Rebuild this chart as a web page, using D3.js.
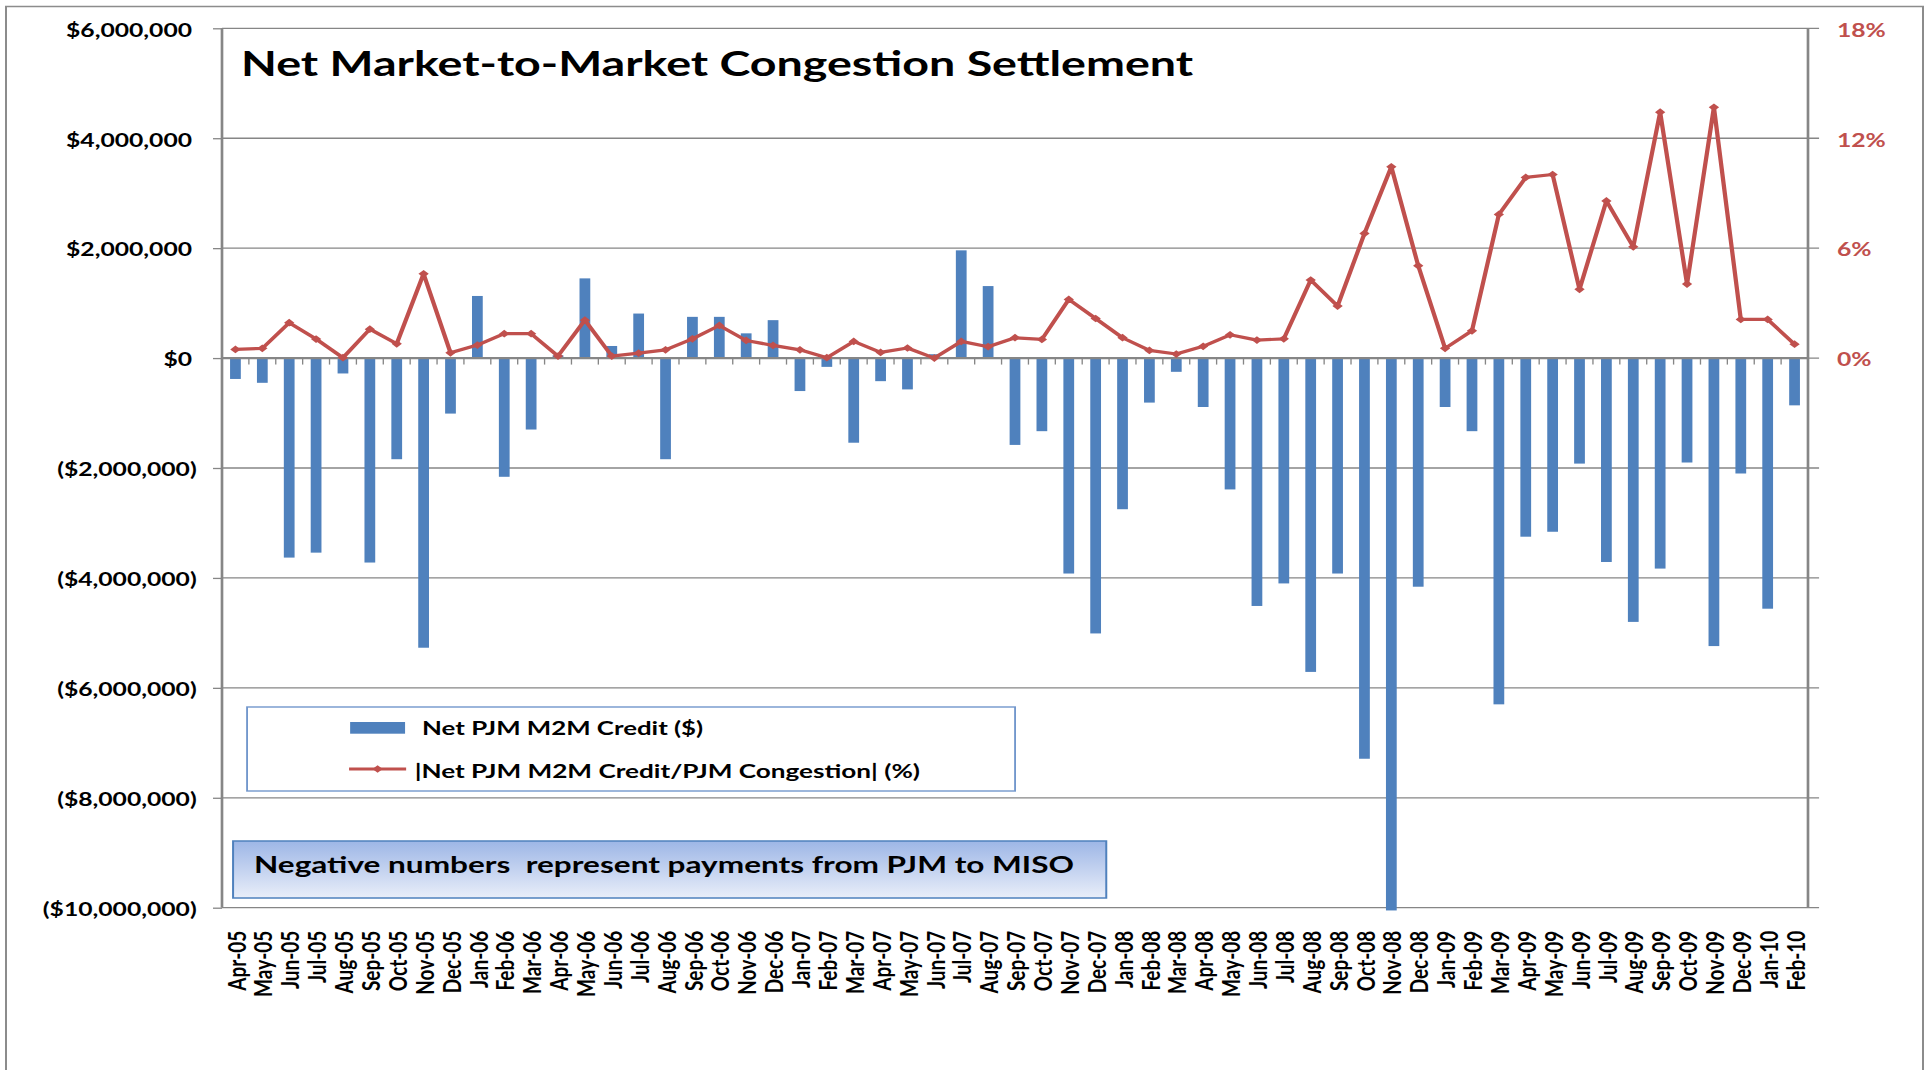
<!DOCTYPE html>
<html>
<head>
<meta charset="utf-8">
<script src="https://cdn.jsdelivr.net/npm/d3@7"></script>
<style>
  body { margin: 0; background: #fff; }
  svg { display: block; }
  text { font-family: Lato, "Open Sans", sans-serif; font-weight: bold; }
</style>
</head>
<body>
<svg id="chart" width="1929" height="1070"></svg>
<script>
const months = [
    "Apr-05", "May-05", "Jun-05", "Jul-05", "Aug-05", "Sep-05", "Oct-05", "Nov-05", "Dec-05",
    "Jan-06", "Feb-06", "Mar-06", "Apr-06", "May-06", "Jun-06", "Jul-06", "Aug-06", "Sep-06", "Oct-06", "Nov-06", "Dec-06",
    "Jan-07", "Feb-07", "Mar-07", "Apr-07", "May-07", "Jun-07", "Jul-07", "Aug-07", "Sep-07", "Oct-07", "Nov-07", "Dec-07",
    "Jan-08", "Feb-08", "Mar-08", "Apr-08", "May-08", "Jun-08", "Jul-08", "Aug-08", "Sep-08", "Oct-08", "Nov-08", "Dec-08",
    "Jan-09", "Feb-09", "Mar-09", "Apr-09", "May-09", "Jun-09", "Jul-09", "Aug-09", "Sep-09", "Oct-09", "Nov-09", "Dec-09",
    "Jan-10", "Feb-10"
];

// Net PJM M2M Credit ($)
const credit = [
    -380000, -450000, -3630000, -3540000, -280000, -3720000, -1840000, -5270000, -1010000,
    1130000, -2160000, -1300000, 50000, 1450000, 220000, 810000, -1840000, 750000, 750000, 450000, 690000,
    -600000, -160000, -1540000, -420000, -570000, 70000, 1960000, 1310000, -1580000, -1330000, -3920000, -5010000,
    -2750000, -810000, -250000, -890000, -2390000, -4510000, -4100000, -5710000, -3920000, -7290000, -10050000, -4160000,
    -890000, -1330000, -6300000, -3250000, -3160000, -1920000, -3710000, -4800000, -3830000, -1900000, -5240000, -2100000,
    -4560000, -860000
];

// |Net PJM M2M Credit/PJM Congestion| (%)
const congestionPct = [
    0.47, 0.53, 1.93, 1.04, 0.02, 1.58, 0.78, 4.60, 0.29,
    0.71, 1.33, 1.33, 0.11, 2.07, 0.11, 0.27, 0.45, 1.05, 1.78, 0.96, 0.69,
    0.45, 0.02, 0.91, 0.31, 0.55, 0.00, 0.91, 0.62, 1.11, 1.02, 3.20, 2.16,
    1.11, 0.42, 0.22, 0.64, 1.27, 0.98, 1.05, 4.26, 2.84, 6.80, 10.44, 5.04,
    0.53, 1.49, 7.84, 9.86, 10.02, 3.75, 8.58, 6.07, 13.42, 4.04, 13.69, 2.11,
    2.11, 0.76
];

const leftTicks = [6000000, 4000000, 2000000, 0, -2000000, -4000000, -6000000, -8000000, -10000000];
const rightTicks = [0, 6, 12, 18];

const seriesNames = ["Net PJM M2M Credit ($)", "|Net PJM M2M Credit/PJM Congestion| (%)"];
const titleText = "Net Market-to-Market Congestion Settlement";
const noteText = "Negative numbers  represent payments from PJM to MISO";

const blue = "#4F81BD";
const red = "#C0504D";
const gray = "#868686";

// the original picture is stretched sideways, so draw in a narrower box and let the viewBox stretch it
const W = 1929, H = 1070, stretch = 4 / 3;
const vbW = W / stretch;

const svg = d3.select("#chart")
    .attr("viewBox", "0 0 " + vbW + " " + H)
    .attr("preserveAspectRatio", "none");

const plot = { left: 166.5, right: 1356, top: 28.3, bottom: 907.7 };

// scales
const x = d3.scaleBand()
    .domain(months)
    .range([plot.left, plot.right])
    .paddingInner(0.6)
    .paddingOuter(0.3);

const yL = d3.scaleLinear()
    .domain([-10000000, 6000000])
    .range([plot.bottom, plot.top]);

const yR = d3.scaleLinear()
    .domain([0, 18])
    .range([yL(0), plot.top]);

// outer frame
svg.append("rect")
    .attr("x", 4.5).attr("y", 6.5)
    .attr("width", vbW - 9).attr("height", H + 20)
    .attr("fill", "none").attr("stroke", "#8c8c8c").attr("stroke-width", 1.5);

// gridlines
svg.append("g").selectAll("line").data(leftTicks).enter().append("line")
    .attr("x1", plot.left).attr("x2", plot.right + 8.3)
    .attr("y1", d => yL(d)).attr("y2", d => yL(d))
    .attr("stroke", gray).attr("stroke-width", 1.3);

// bars
svg.append("g").selectAll("rect").data(months).enter().append("rect")
    .attr("x", d => x(d))
    .attr("width", x.bandwidth())
    .attr("y", (d, i) => Math.min(yL(credit[i]), yL(0)))
    .attr("height", (d, i) => Math.abs(yL(credit[i]) - yL(0)))
    .attr("fill", blue);

// zero line with category ticks
svg.append("line")
    .attr("x1", plot.left).attr("x2", plot.right)
    .attr("y1", yL(0)).attr("y2", yL(0))
    .attr("stroke", gray).attr("stroke-width", 2.2);

svg.append("g").selectAll("line").data(d3.range(months.length + 1)).enter().append("line")
    .attr("x1", i => plot.left + i * x.step()).attr("x2", i => plot.left + i * x.step())
    .attr("y1", yL(0)).attr("y2", yL(0) + 6.5)
    .attr("stroke", gray).attr("stroke-width", 1);

// axes
function moneyFormat(d) {
    if (d === 0) return "$0";
    if (d < 0) return "($" + d3.format(",")(-d) + ")";
    return "$" + d3.format(",")(d);
}

const leftAxis = svg.append("g")
    .attr("transform", "translate(" + plot.left + ",0)")
    .call(d3.axisLeft(yL).tickValues(leftTicks).tickSize(6.75).tickFormat(moneyFormat));
leftAxis.select(".domain").remove();
leftAxis.selectAll(".tick line").attr("stroke", gray).attr("stroke-width", 1.3);
leftAxis.selectAll(".tick text")
    .attr("x", d => d < 0 ? -19 : -22.5)
    .attr("dy", "0.42em")
    .attr("font-size", 18.5)
    .attr("fill", "#000");

const rightAxis = svg.append("g")
    .attr("transform", "translate(" + plot.right + ",0)")
    .call(d3.axisRight(yR).tickValues(rightTicks).tickSize(0).tickPadding(21.7).tickFormat(d => d + "%"));
rightAxis.select(".domain").remove();
rightAxis.selectAll(".tick text")
    .attr("dy", "0.42em")
    .attr("font-size", 18.5)
    .attr("fill", red);

[plot.left, plot.right].forEach(ax => {
    svg.append("line")
        .attr("x1", ax).attr("x2", ax)
        .attr("y1", plot.top).attr("y2", plot.bottom)
        .attr("stroke", gray).attr("stroke-width", 2);
});

const bottomAxis = svg.append("g")
    .attr("transform", "translate(0," + plot.bottom + ")")
    .call(d3.axisBottom(x).tickSize(0));
bottomAxis.select(".domain").remove();
bottomAxis.selectAll(".tick text")
    .attr("transform", "rotate(-90)")
    .attr("text-anchor", "end")
    .attr("x", -23)
    .attr("y", 0)
    .attr("dy", "0.4em")
    .attr("font-family", "Lato, sans-serif")
    .attr("font-size", 19)
    .attr("fill", "#000");

// line series
const cx = d => x(d) + x.bandwidth() / 2;
const line = d3.line()
    .x(d => cx(d))
    .y((d, i) => yR(congestionPct[i]));

svg.append("path")
    .datum(months)
    .attr("d", line)
    .attr("fill", "none")
    .attr("stroke", red)
    .attr("stroke-width", 3.2)
    .attr("stroke-linejoin", "round");

const diamond = d3.symbol(d3.symbolSquare, 30);
svg.append("g").selectAll("path").data(months).enter().append("path")
    .attr("d", diamond)
    .attr("transform", (d, i) => "translate(" + cx(d) + "," + yR(congestionPct[i]) + ") rotate(45)")
    .attr("fill", red);

// legend
const legend = svg.append("g");
legend.append("rect")
    .attr("x", 185.3).attr("y", 707).attr("width", 576).attr("height", 84)
    .attr("fill", "#fff").attr("stroke", "#7297CC").attr("stroke-width", 1.4);
legend.append("rect")
    .attr("x", 262.6).attr("y", 722).attr("width", 41.2).attr("height", 11.7)
    .attr("fill", blue);
legend.append("text")
    .attr("x", 316.6).attr("y", 735)
    .attr("font-size", 18.5)
    .attr("textLength", 210.8).attr("lengthAdjust", "spacingAndGlyphs")
    .text(seriesNames[0]);
legend.append("line")
    .attr("x1", 261.8).attr("x2", 304.6).attr("y1", 769).attr("y2", 769)
    .attr("stroke", red).attr("stroke-width", 3);
legend.append("path")
    .attr("d", diamond)
    .attr("transform", "translate(283.2,769) rotate(45)")
    .attr("fill", red);
legend.append("text")
    .attr("x", 311).attr("y", 778)
    .attr("font-size", 18.5)
    .attr("textLength", 379).attr("lengthAdjust", "spacingAndGlyphs")
    .text(seriesNames[1]);

// note box
const grad = svg.append("defs").append("linearGradient")
    .attr("id", "noteFill").attr("x1", 0).attr("y1", 0).attr("x2", 0).attr("y2", 1);
grad.append("stop").attr("offset", "0%").attr("stop-color", "#9DB6E6");
grad.append("stop").attr("offset", "100%").attr("stop-color", "#E9EEF9");

svg.append("rect")
    .attr("x", 174.8).attr("y", 841).attr("width", 654.9).attr("height", 57)
    .attr("fill", "url(#noteFill)").attr("stroke", blue).attr("stroke-width", 1.5);
svg.append("text")
    .attr("x", 190.5).attr("y", 873)
    .attr("font-size", 22)
    .style("white-space", "pre")
    .attr("textLength", 615).attr("lengthAdjust", "spacingAndGlyphs")
    .text(noteText);

// title
svg.append("text")
    .attr("x", 180.8).attr("y", 76)
    .attr("font-size", 34)
    .attr("textLength", 714).attr("lengthAdjust", "spacingAndGlyphs")
    .text(titleText);
</script>
</body>
</html>
